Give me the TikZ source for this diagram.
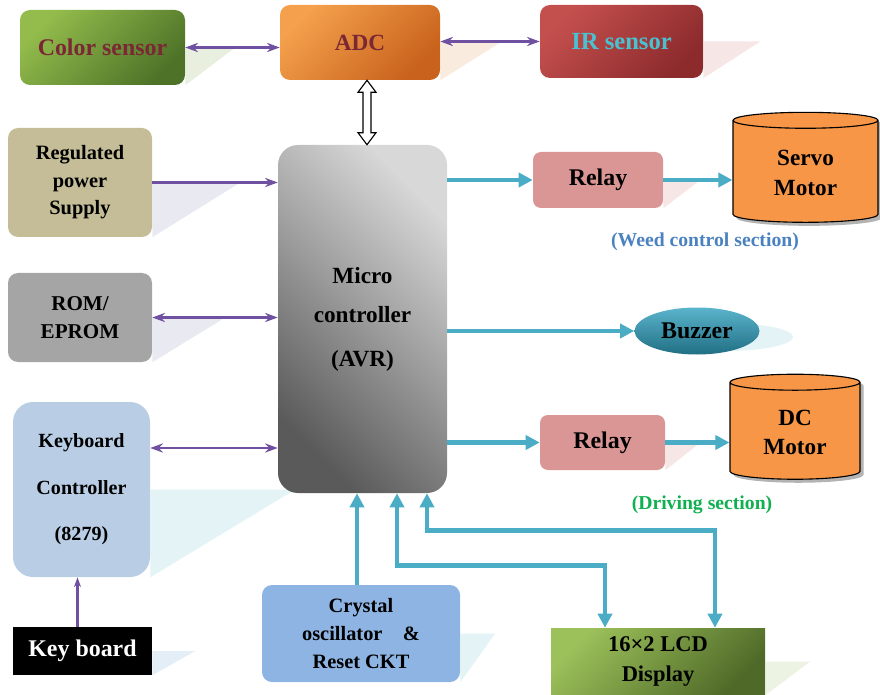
\documentclass[tikz,border=0pt]{standalone}
\usepackage{fontspec}
\setmainfont{Liberation Serif}
\usepackage{tikz}
\usetikzlibrary{arrows.meta, shapes.geometric, shadows, calc}

\newlength\pxu
\setlength\pxu{0.025cm}

\definecolor{purp}{HTML}{7050A0}
\definecolor{cyanline}{HTML}{4BACC6}
\definecolor{motor}{HTML}{F79646}
\definecolor{maroon}{HTML}{7A2834}
\definecolor{irtext}{HTML}{4BC0D0}
\definecolor{greenA}{HTML}{93BC4C}
\definecolor{greenB}{HTML}{4E7328}
\definecolor{orangeA}{HTML}{F4A04C}
\definecolor{orangeB}{HTML}{C8621C}
\definecolor{redA}{HTML}{C4504E}
\definecolor{redB}{HTML}{8C2A2C}
\definecolor{tan}{HTML}{C4BD97}
\definecolor{romgray}{HTML}{A5A5A5}
\definecolor{kbcblue}{HTML}{B9CDE5}
\definecolor{crysblue}{HTML}{8EB4E3}
\definecolor{lcdA}{HTML}{9CC05A}
\definecolor{lcdB}{HTML}{4F6A28}
\definecolor{relaypink}{HTML}{D99694}
\definecolor{weedblue}{HTML}{4A82C0}
\definecolor{drivegreen}{HTML}{10B050}
\definecolor{microA}{HTML}{D8D8D8}
\definecolor{microB}{HTML}{5A5A5A}
\definecolor{buzzA}{HTML}{5AB4CC}
\definecolor{buzzB}{HTML}{216F84}
\definecolor{shGreen}{HTML}{C8D8B0}
\definecolor{shPeach}{HTML}{F0D0B0}
\definecolor{shPink}{HTML}{E8C0C0}
\definecolor{shGray}{HTML}{C8C8DC}
\definecolor{shCyan}{HTML}{B8E0E8}
\definecolor{shBlue}{HTML}{B8D4E8}
\definecolor{shLime}{HTML}{D0E0B8}

\tikzset{
  box/.style={rounded corners=10\pxu, inner sep=2pt, align=center},
  gradbox/.style 2 args={top color=#1, bottom color=#2, shading angle=45},
  motorbox/.style={cylinder, shape border rotate=90, aspect=0.22, draw=black,
    line width=0.8pt, fill=motor, minimum width=145\pxu,
    minimum height=110\pxu, align=center,
    drop shadow={shadow xshift=2.5pt, shadow yshift=-2.5pt, opacity=0.6},
    font=\fontsize{16.5}{21}\selectfont\bfseries},
  shade/.style={fill=#1, opacity=0.4},
  plink/.style={draw=purp, line width=2pt},
  clink/.style={draw=cyanline, line width=3.5pt},
  ptip/.tip={Stealth[length=9pt, width=6.5pt]},
  ctip/.tip={Triangle[length=10pt, width=10pt]},
}

\begin{document}
\begin{tikzpicture}[x=\pxu, y=-\pxu]
  \useasboundingbox (0,0) rectangle (880,695);

  % Top row
  \node[box, gradbox={greenA}{greenB}, minimum width=165\pxu, minimum height=75\pxu,
    text=maroon, font=\fontsize{17}{20}\selectfont\bfseries] (color) at (102.5,47.5) {Color sensor};
  \node[box, gradbox={orangeA}{orangeB}, minimum width=160\pxu, minimum height=75\pxu,
    text=maroon, font=\fontsize{16.5}{20}\selectfont\bfseries] (adc) at (360,42.5) {ADC};
  \node[box, gradbox={redA}{redB}, minimum width=163\pxu, minimum height=73\pxu,
    text=irtext, font=\fontsize{17.5}{20}\selectfont\bfseries] (ir) at (621.5,41.5) {IR sensor};

  % Left column
  \node[box, fill=tan, minimum width=144\pxu, minimum height=109\pxu,
    font=\fontsize{14.5}{19.5}\selectfont\bfseries] (reg) at (80,182.5) {Regulated\\power\\Supply};
  \node[box, fill=romgray, minimum width=144\pxu, minimum height=89\pxu,
    font=\fontsize{15}{19.5}\selectfont\bfseries] (rom) at (80,317.5) {ROM/\\EPROM};
  \node[box, rounded corners=20\pxu, fill=kbcblue, minimum width=137\pxu, minimum height=175\pxu,
    font=\fontsize{14.3}{33}\selectfont\bfseries] (kbc) at (81.5,489.5) {Keyboard\\Controller\\(8279)};
  \node[fill=black, text=white, minimum width=139\pxu, minimum height=48\pxu,
    font=\fontsize{17}{20}\selectfont\bfseries] (kb) at (82.5,651) {Key board};

  % Bottom row
  \node[box, fill=crysblue, minimum width=198\pxu, minimum height=97\pxu,
    font=\fontsize{14.5}{20}\selectfont\bfseries] (crystal) at (361,633.5) {Crystal\\oscillator\quad\&\\Reset CKT};
  \node[gradbox={lcdA}{lcdB}, minimum width=214\pxu, minimum height=67\pxu, align=center,
    font=\fontsize{16}{21.5}\selectfont\bfseries] (lcd) at (658,661.5) {16×2 LCD\\Display};

  % Right column
  \node[box, fill=relaypink, rounded corners=8\pxu, minimum width=130\pxu, minimum height=56\pxu,
    font=\fontsize{17}{20}\selectfont\bfseries] (relayA) at (598,180) {Relay};
  \node[box, fill=relaypink, rounded corners=8\pxu, minimum width=125\pxu, minimum height=55\pxu,
    font=\fontsize{17}{20}\selectfont\bfseries] (relayB) at (602.5,442.5) {Relay};
  \node[motorbox] (servo) at (805.5,173) {Servo\\Motor};
  \node[motorbox, minimum width=130\pxu, minimum height=105\pxu] (dc) at (795,432.5) {DC\\Motor};
  \node[text=weedblue, font=\fontsize{14}{16}\selectfont\bfseries] (weed) at (705,242) {(Weed control section)};
  \node[text=drivegreen, font=\fontsize{14}{16}\selectfont\bfseries] (drive) at (702,505) {(Driving section)};

  % Shadows
  \foreach \n/\dx/\c in {color/50/shGreen, adc/60/shPeach, ir/57/shPink,
      reg/88/shGray, rom/73/shGray, kbc/145/shCyan, relayA/37/shPink,
      relayB/35/shPink, crystal/35/shCyan, lcd/45/shLime, kb/43/shBlue} {
    \fill[shade=\c] (\n.east) -- ++(\dx,0) -- (\n.south east) -- cycle;
  }
  \fill[shade=shCyan] (725,337) ellipse [x radius=68\pxu, y radius=14\pxu];

  % Centre
  \node[rounded corners=20\pxu, top color=microA, bottom color=microB, shading angle=-45,
    minimum width=169\pxu, minimum height=348\pxu, align=center,
    font=\fontsize{16.5}{28}\selectfont\bfseries] (micro) at (362.5,319) {Micro\\controller\\[3pt](AVR)};
  \node[top color=buzzA, bottom color=buzzB, ellipse, minimum width=125\pxu,
    minimum height=47\pxu, inner sep=1pt, font=\fontsize{17}{20}\selectfont\bfseries] (buzzer) at (697,331) {Buzzer};

  % Purple links
  \draw[plink, ptip-ptip] (color.east) -- (color.east -| adc.west);
  \draw[plink, ptip-ptip] (ir.west -| adc.east) -- (ir.west);
  \draw[plink, -ptip] (reg.east) -- (reg.east -| micro.west);
  \draw[plink, ptip-ptip] (rom.east) -- (rom.east -| micro.west);
  \coordinate (kbcport) at ([yshift=41.5\pxu]kbc.east);
  \draw[plink, ptip-ptip] (kbcport) -- (kbcport -| micro.west);
  \draw[purp, line width=1.5pt, -{Stealth[length=7pt, width=5pt]}] ([xshift=-5\pxu]kb.north) -- ([xshift=-5\pxu]kb.north |- kbc.south);

  % Hollow arrow between ADC and micro
  \coordinate (hat) at ([xshift=7\pxu]adc.south);
  \coordinate (hab) at (hat |- micro.north);
  \draw[fill=white, line width=0.8pt] (hat) -- ++(9,12) -- ++(-5,0) -- ($(hab)+(4,-12)$) -- ++(5,0)
    -- (hab) -- ++(-9,-12) -- ++(5,0) -- ($(hat)+(-4,12)$) -- ++(-5,0) -- cycle;

  % Cyan links
  \draw[clink, -ctip] (relayA.west -| micro.east) -- (relayA.west);
  \draw[clink, -ctip] (relayA.east) -- (relayA.east -| servo.west);
  \draw[clink, -ctip] (buzzer.west -| micro.east) -- (buzzer.west);
  \draw[clink, -ctip] (relayB.west -| micro.east) -- (relayB.west);
  \draw[clink, -ctip] (relayB.east) -- (relayB.east -| dc.west);
  \draw[clink, -ctip] ([xshift=-4\pxu]crystal.north) -- ([xshift=-4\pxu]crystal.north |- micro.south);
  \draw[clink, ctip-ctip] ([xshift=34.5\pxu]micro.south) -- ++(0,72) -| ([xshift=-53\pxu]lcd.north);
  \draw[clink, ctip-ctip] ([xshift=64.5\pxu]micro.south) -- ++(0,37) -| ([xshift=57\pxu]lcd.north);
\end{tikzpicture}
\end{document}
